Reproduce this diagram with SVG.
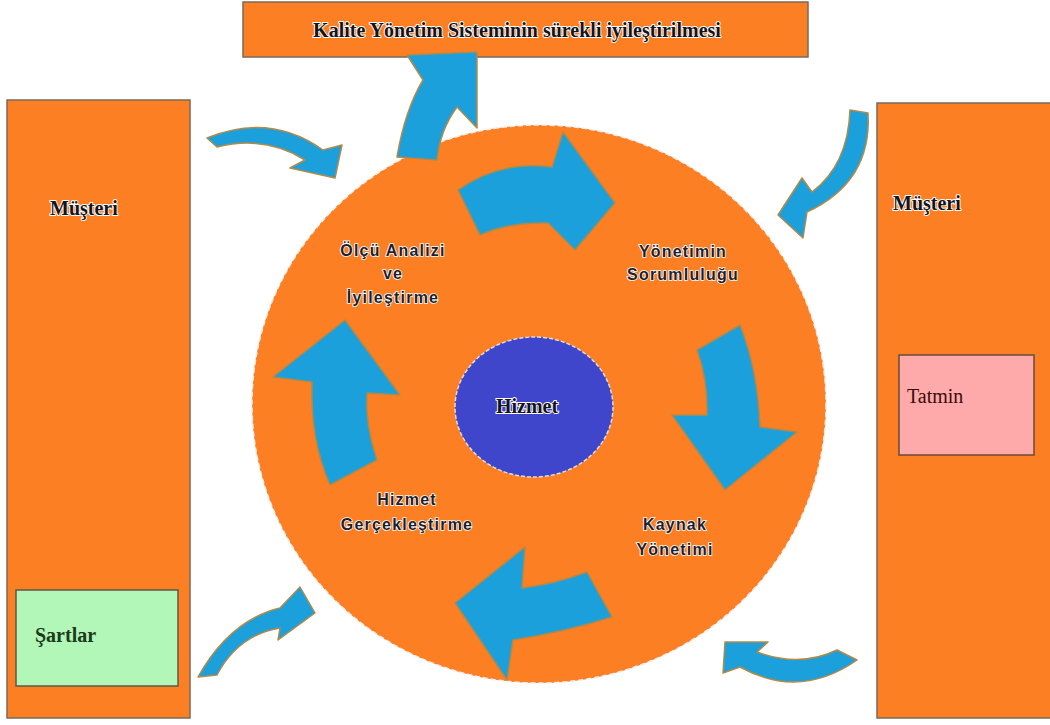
<svg xmlns="http://www.w3.org/2000/svg" width="1050" height="725" viewBox="0 0 1050 725">
<style>
.box{fill:#fd7f24;stroke:#7a6a5a;stroke-width:1.5}
.arrow{fill:#1ca0dc;stroke:#b08a4a;stroke-width:1.5;stroke-linejoin:round}
.lbl{font-family:"Liberation Sans",Arial,sans-serif;font-weight:bold;font-size:16px;letter-spacing:1.2px;fill:#1e1e2e;stroke:#ffffff;stroke-width:1.6;paint-order:stroke;text-anchor:middle}
.ser{font-family:"Liberation Serif","Times New Roman",serif;font-weight:bold;font-size:20px;fill:#141420;stroke:#ffffff;stroke-width:1.8;paint-order:stroke}
.plain{font-family:"Liberation Serif","Times New Roman",serif;font-size:20px}
</style>
<rect width="1050" height="725" fill="#ffffff"/>
<g id="top-box">
<rect class="box" x="243" y="2" width="565" height="55"/>
<text class="ser" x="517" y="37" text-anchor="middle" font-size="21">Kalite Yönetim Sisteminin sürekli iyileştirilmesi</text>
</g>
<g id="left-customer">
<rect class="box" x="7" y="100" width="183" height="618"/>
<text class="ser" x="50" y="215">Müşteri</text>
</g>
<g id="sartlar">
<rect x="16" y="590" width="162" height="96" fill="#b3f7b8" stroke="#5a5a4a" stroke-width="1.5"/>
<text class="plain" x="35" y="642" fill="#1a3a1a" font-weight="bold">Şartlar</text>
</g>
<g id="right-customer">
<rect class="box" x="877" y="103" width="180" height="615"/>
<text class="ser" x="893" y="210">Müşteri</text>
</g>
<g id="tatmin">
<rect x="899" y="355" width="135" height="100" fill="#ffaaaa" stroke="#6a4a3a" stroke-width="1.5"/>
<text class="plain" x="907" y="403" fill="#3a0a0a">Tatmin</text>
</g>
<g id="cycle">
<ellipse cx="539" cy="404" rx="287" ry="279" fill="#fd7f24" stroke="#eeeeee" stroke-width="1.5" stroke-dasharray="5 3"/>
</g>
<g id="hizmet">
<ellipse cx="534" cy="407" rx="79" ry="70" fill="#4046cc" stroke="#dddddd" stroke-width="1.5" stroke-dasharray="4 2"/>
<text class="ser" x="527" y="413" text-anchor="middle">Hizmet</text>
</g>
<g id="labels">
<text class="lbl" x="393" y="256">Ölçü Analizi</text>
<text class="lbl" x="393" y="279">ve</text>
<text class="lbl" x="393" y="303">İyileştirme</text>
<text class="lbl" x="683" y="257">Yönetimin</text>
<text class="lbl" x="683" y="280">Sorumluluğu</text>
<text class="lbl" x="675" y="530">Kaynak</text>
<text class="lbl" x="675" y="555">Yönetimi</text>
<text class="lbl" x="407" y="505">Hizmet</text>
<text class="lbl" x="407" y="530">Gerçekleştirme</text>
</g>
<g id="connectors">
<path class="arrow" d="M458,190 Q500,160 552,167 L563,132 L615,203 L575,250 L548,223 Q510,222 480,235 Z"/>
<path class="arrow" d="M697,350 L740,325 Q758,370 760,427 L797,432 L725,490 L672,415 L707,415 Q708,380 697,350 Z"/>
<path class="arrow" d="M587,572 Q555,584 522,588 L525,547 L455,603 L507,680 L513,640 Q565,632 612,617 Z"/>
<path class="arrow" d="M345,320 L273,377 L312,382 Q310,440 330,485 L377,460 Q365,425 367,393 L400,395 Z"/>
<path class="arrow" d="M397,157 Q405,110 423,80 L407,55 L477,52 L477,128 L457,107 Q440,130 437,160 Z"/>
<path class="arrow" d="M207,138 Q270,112 323,150 L342,145 L335,178 L290,168 L305,160 Q265,135 217,147 Z"/>
<path class="arrow" d="M850,110 L868,113 Q872,182 807,212 L803,238 L778,215 L802,178 L812,192 Q848,165 850,110 Z"/>
<path class="arrow" d="M198,677 Q230,620 280,608 L300,587 L315,613 L278,640 L280,628 Q238,635 217,675 Z"/>
<path class="arrow" d="M723,673 L725,642 L768,642 L757,652 Q800,668 837,650 L857,660 Q800,700 740,667 Z"/>
</g>
</svg>
